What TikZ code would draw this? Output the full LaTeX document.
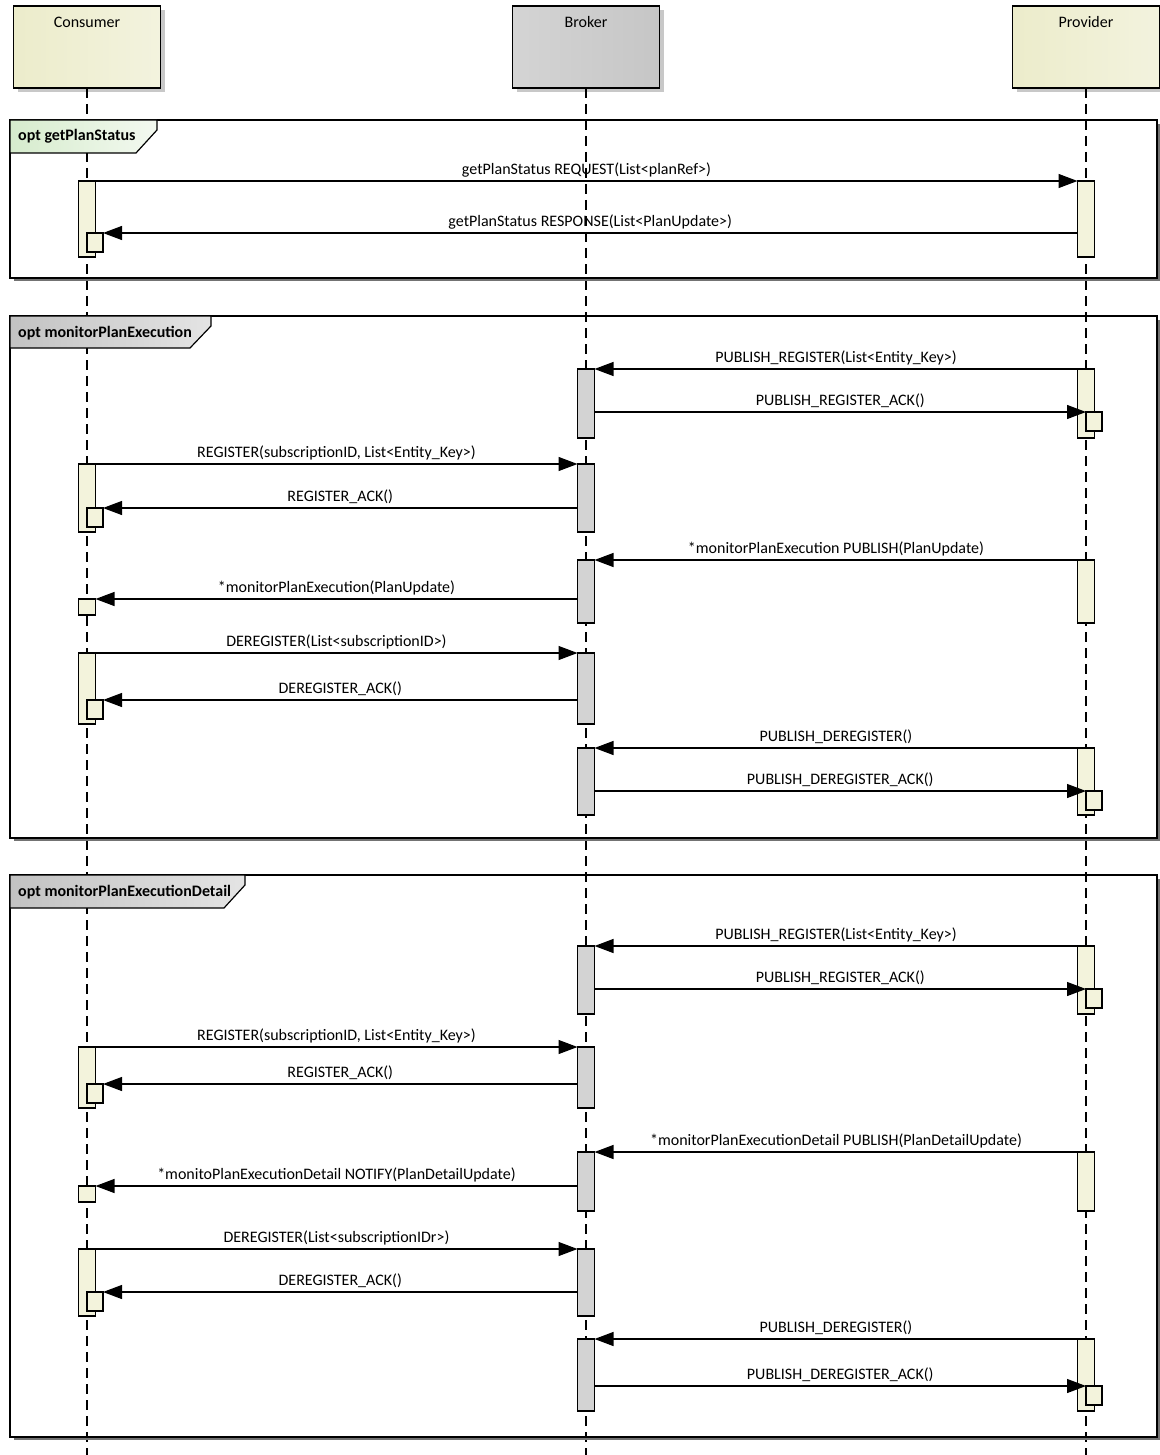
\documentclass[tikz,border=0pt]{standalone}
\usepackage{fontspec}
\setmainfont{Carlito}
\usetikzlibrary{arrows.meta,calc,shadows}
\definecolor{yelL}{HTML}{ECECCB}
\definecolor{yelR}{HTML}{F3F3DE}
\definecolor{actY}{HTML}{F3F3DC}
\definecolor{gryL}{HTML}{D4D4D4}
\definecolor{gryR}{HTML}{C6C6C6}
\definecolor{actG}{HTML}{D3D3D3}
\definecolor{tabGL}{HTML}{D6ECCD}
\definecolor{tabGR}{HTML}{F3F9F0}
\definecolor{tabSL}{HTML}{C2C2C2}
\definecolor{tabSR}{HTML}{E4E4E4}
\definecolor{shd}{HTML}{C8C8C8}
\newcommand\actnode[5]{\node[#1, minimum height={(#5-#4)*1pt}] (#2) at (#3,{(#4+#5)/2}) {};}
\begin{document}
\begin{tikzpicture}[x=1pt,y=-1pt,
  font=\fontsize{16}{19}\selectfont,
  head/.style={draw, line width=1.3pt, minimum width=147pt, minimum height=82pt, inner sep=0pt, outer sep=0pt,
    drop shadow={shadow xshift=4pt, shadow yshift=-4pt, fill=shd, opacity=1}},
  headY/.style={head, left color=yelL, right color=yelR},
  headG/.style={head, left color=gryL, right color=gryR},
  headtxt/.style={anchor=base, inner sep=0pt},
  lifeline/.style={line width=1.3pt, dash pattern=on 10pt off 6pt},
  frm/.style={draw, line width=1.3pt, inner sep=0pt, outer sep=0pt, minimum width=1147pt, anchor=north west},
  frmshadow/.style={draw=black!55, line width=2pt},
  tabGreen/.style={draw, line width=1.2pt, left color=tabGL, right color=tabGR},
  tabGray/.style={draw, line width=1.2pt, left color=tabSL, right color=tabSR},
  tabtxt/.style={anchor=base west, inner sep=0pt, font=\fontsize{16}{19}\selectfont\bfseries},
  actYs/.style={draw, line width=1.2pt, fill=actY, minimum width=17pt, inner sep=0pt, outer sep=0pt},
  actGs/.style={draw, line width=1.2pt, fill=actG, minimum width=17pt, inner sep=0pt, outer sep=0pt},
  smallY/.style={draw, line width=1.2pt, fill=actY, minimum width=16pt, minimum height=19pt, inner sep=0pt, outer sep=0pt, anchor=north west},
  msg/.style={line width=1.2pt, -{Triangle[length=19pt,width=14pt]}},
  lbl/.style={midway, anchor=base, yshift=6.5pt, inner sep=0pt}
]
\useasboundingbox (0,0) rectangle (1159,1455);
\fill[white] (0,0) rectangle (1159,1455);
\def\xC{87}
\def\xB{586}
\def\xP{1086}

% heads
\node[headY] (cons) at (\xC,47) {};
\node[headG] (brok) at (\xB,47) {};
\node[headY] (prov) at (\xP,47) {};
\node[headtxt] (consT) at ($(cons.north)+(0,22)$) {Consumer};
\node[headtxt] (brokT) at ($(brok.north)+(0,22)$) {Broker};
\node[headtxt] (provT) at ($(prov.north)+(0,22)$) {Provider};

% lifelines
\coordinate (cEnd) at (\xC,1455);
\coordinate (bEnd) at (\xB,1455);
\coordinate (pEnd) at (\xP,1455);
\draw[lifeline] (cons.south) -- (cEnd);
\draw[lifeline] (brok.south) -- (bEnd);
\draw[lifeline] (prov.south) -- (pEnd);

% frames
\node[frm, minimum height=158pt] (f1) at (10,120) {};
\node[frm, minimum height=522pt] (f2) at (10,316) {};
\node[frm, minimum height=562pt] (f3) at (10,875) {};
\foreach \f in {f1,f2,f3}{
  \draw[frmshadow] ($(\f.north east)+(2,4)$) -- ($(\f.south east)+(2,2)$) -- ($(\f.south west)+(4,2)$);
}
\draw[tabGreen] (f1.north west) -- ++(147,0) -- ++(0,10) -- ++(-21,23) -- ++(-126,0) -- cycle;
\node[tabtxt] (t1) at ($(f1.north west)+(8,21)$) {opt getPlanStatus};
\draw[tabGray] (f2.north west) -- ++(201,0) -- ++(0,10) -- ++(-21,22) -- ++(-180,0) -- cycle;
\node[tabtxt] (t2) at ($(f2.north west)+(8,21)$) {opt monitorPlanExecution};
\draw[tabGray] (f3.north west) -- ++(235,0) -- ++(0,10) -- ++(-21,23) -- ++(-214,0) -- cycle;
\node[tabtxt] (t3) at ($(f3.north west)+(8,21)$) {opt monitorPlanExecutionDetail};

% ---------------- frame 1
\actnode{actYs}{c1}{\xC}{181}{257}
\actnode{actYs}{p1}{\xP}{181}{257}
\node[smallY] (cs1) at (\xC,233) {};
\draw[msg] (c1.north east) -- (p1.north west) node[lbl] {getPlanStatus REQUEST(List<planRef>)};
\draw[msg] (p1.west |- cs1.north) -- (cs1.north east) node[lbl] {getPlanStatus RESPONSE(List<PlanUpdate>)};

% ---------------- frame 2
\actnode{actGs}{b1}{\xB}{369}{438}
\actnode{actYs}{p2}{\xP}{369}{438}
\node[smallY] (ps2) at (\xP,412) {};
\draw[msg] (p2.north west) -- (b1.north east) node[lbl] {PUBLISH\_REGISTER(List<Entity\_Key>)};
\draw[msg] (b1.east |- ps2.north) -- (ps2.north west) node[lbl] {PUBLISH\_REGISTER\_ACK()};

\actnode{actYs}{c2}{\xC}{464}{532}
\actnode{actGs}{b2}{\xB}{464}{532}
\node[smallY] (cs2) at (\xC,508) {};
\draw[msg] (c2.north east) -- (b2.north west) node[lbl] {REGISTER(subscriptionID, List<Entity\_Key>)};
\draw[msg] (b2.west |- cs2.north) -- (cs2.north east) node[lbl] {REGISTER\_ACK()};

\actnode{actGs}{b3}{\xB}{560}{623}
\actnode{actYs}{p3}{\xP}{560}{623}
\actnode{actYs}{c3}{\xC}{599}{615}
\draw[msg] (p3.north west) -- (b3.north east) node[lbl] {*monitorPlanExecution PUBLISH(PlanUpdate)};
\draw[msg] (b3.west |- c3.north) -- (c3.north east) node[lbl] {*monitorPlanExecution(PlanUpdate)};

\actnode{actYs}{c4}{\xC}{653}{724}
\actnode{actGs}{b4}{\xB}{653}{724}
\node[smallY] (cs4) at (\xC,700) {};
\draw[msg] (c4.north east) -- (b4.north west) node[lbl] {DEREGISTER(List<subscriptionID>)};
\draw[msg] (b4.west |- cs4.north) -- (cs4.north east) node[lbl] {DEREGISTER\_ACK()};

\actnode{actGs}{b5}{\xB}{748}{815}
\actnode{actYs}{p5}{\xP}{748}{815}
\node[smallY] (ps5) at (\xP,791) {};
\draw[msg] (p5.north west) -- (b5.north east) node[lbl] {PUBLISH\_DEREGISTER()};
\draw[msg] (b5.east |- ps5.north) -- (ps5.north west) node[lbl] {PUBLISH\_DEREGISTER\_ACK()};

% ---------------- frame 3
\actnode{actGs}{b6}{\xB}{946}{1014}
\actnode{actYs}{p6}{\xP}{946}{1014}
\node[smallY] (ps6) at (\xP,989) {};
\draw[msg] (p6.north west) -- (b6.north east) node[lbl] {PUBLISH\_REGISTER(List<Entity\_Key>)};
\draw[msg] (b6.east |- ps6.north) -- (ps6.north west) node[lbl] {PUBLISH\_REGISTER\_ACK()};

\actnode{actYs}{c7}{\xC}{1047}{1108}
\actnode{actGs}{b7}{\xB}{1047}{1108}
\node[smallY] (cs7) at (\xC,1084) {};
\draw[msg] (c7.north east) -- (b7.north west) node[lbl] {REGISTER(subscriptionID, List<Entity\_Key>)};
\draw[msg] (b7.west |- cs7.north) -- (cs7.north east) node[lbl] {REGISTER\_ACK()};

\actnode{actGs}{b8}{\xB}{1152}{1211}
\actnode{actYs}{p8}{\xP}{1152}{1211}
\actnode{actYs}{c8}{\xC}{1186}{1202}
\draw[msg] (p8.north west) -- (b8.north east) node[lbl] {*monitorPlanExecutionDetail PUBLISH(PlanDetailUpdate)};
\draw[msg] (b8.west |- c8.north) -- (c8.north east) node[lbl] {*monitoPlanExecutionDetail NOTIFY(PlanDetailUpdate)};

\actnode{actYs}{c9}{\xC}{1249}{1316}
\actnode{actGs}{b9}{\xB}{1249}{1316}
\node[smallY] (cs9) at (\xC,1292) {};
\draw[msg] (c9.north east) -- (b9.north west) node[lbl] {DEREGISTER(List<subscriptionIDr>)};
\draw[msg] (b9.west |- cs9.north) -- (cs9.north east) node[lbl] {DEREGISTER\_ACK()};

\actnode{actGs}{b10}{\xB}{1339}{1411}
\actnode{actYs}{p10}{\xP}{1339}{1411}
\node[smallY] (ps10) at (\xP,1386) {};
\draw[msg] (p10.north west) -- (b10.north east) node[lbl] {PUBLISH\_DEREGISTER()};
\draw[msg] (b10.east |- ps10.north) -- (ps10.north west) node[lbl] {PUBLISH\_DEREGISTER\_ACK()};
\end{tikzpicture}
\end{document}
